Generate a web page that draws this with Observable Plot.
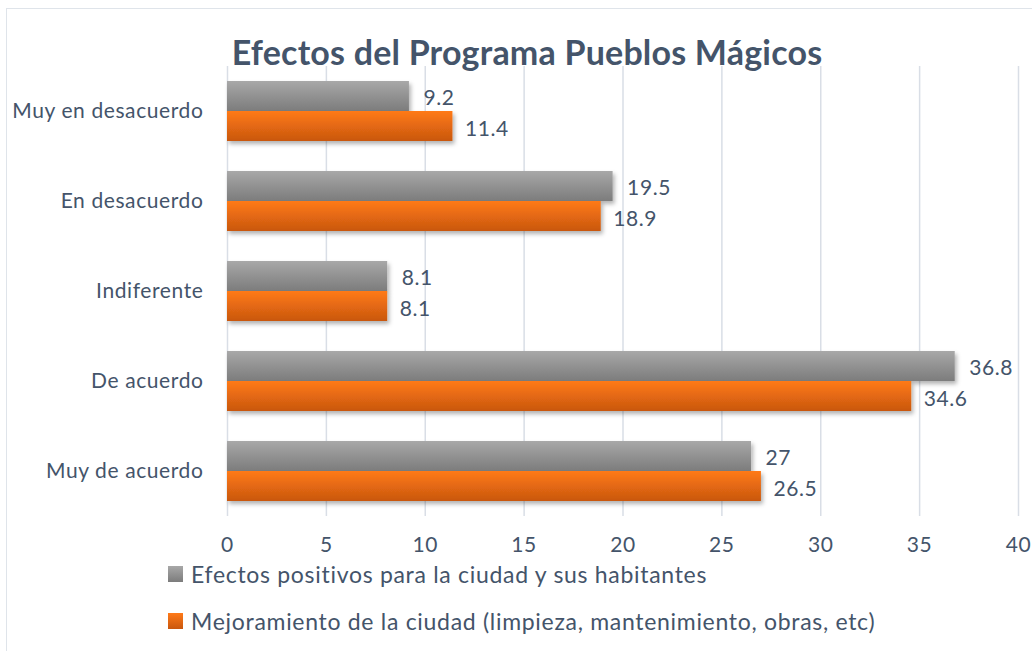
<!DOCTYPE html>
<html>
<head>
<meta charset="utf-8">
<script src="https://cdn.jsdelivr.net/npm/d3@7"></script>
<script src="https://cdn.jsdelivr.net/npm/@observablehq/plot@0.6"></script>
<style>
  body { margin: 0; background: #fff; font-family: Lato, "Open Sans", sans-serif; }
  #frame { position: absolute; left: 6px; top: 8px; width: 1040px; height: 660px; border: 1.5px solid #dfe4ea; box-sizing: border-box; }
  #title { position: absolute; left: 0; top: 31px; width: 1054px; text-align: center; font-weight: bold; font-size: 34px; letter-spacing: 0.2px; color: #44546A; }
  #chart { position: absolute; left: 0; top: 0; }
  #legend { position: absolute; left: 168px; top: 560px; color: #44546A; font-size: 23px; letter-spacing: 0.7px; }
  .item { display: flex; align-items: center; height: 28px; margin-bottom: 19px; }
  .sw { width: 15px; height: 16px; margin-right: 8px; }
  #chart svg text { letter-spacing: 0.6px; }
</style>
</head>
<body>
<div id="frame"></div>
<div id="title">Efectos del Programa Pueblos Mágicos</div>
<div id="chart"></div>
<div id="legend"></div>
<script>
const categories = ["Muy en desacuerdo", "En desacuerdo", "Indiferente", "De acuerdo", "Muy de acuerdo"];
const seriesNames = ["Efectos positivos para la ciudad y sus habitantes", "Mejoramiento de la ciudad (limpieza, mantenimiento, obras, etc)"];
const efectos = [9.2, 19.5, 8.1, 36.8, 26.5];
const mejoramiento = [11.4, 18.9, 8.1, 34.6, 27];
const efectosLabels = ["9.2", "19.5", "8.1", "36.8", "27"];
const mejoramientoLabels = ["11.4", "18.9", "8.1", "34.6", "26.5"];
const xTicks = [0, 5, 10, 15, 20, 25, 30, 35, 40];

const dataA = categories.map((c, i) => ({cat: c, v: efectos[i], label: efectosLabels[i]}));
const dataB = categories.map((c, i) => ({cat: c, v: mejoramiento[i], label: mejoramientoLabels[i]}));

const textColor = "#44546A";

const plot = Plot.plot({
  width: 1032,
  height: 560,
  marginLeft: 227,
  marginRight: 14,
  marginTop: 66,
  marginBottom: 44,
  style: {fontFamily: "Lato, 'Open Sans', sans-serif", fontSize: "21px", color: textColor, background: "transparent", overflow: "visible"},
  x: {domain: [0, 40], ticks: xTicks, label: null},
  y: {domain: categories, paddingInner: 1/3, paddingOuter: 1/6, label: null},
  marks: [
    Plot.gridX(xTicks, {stroke: "#d9dee6", strokeOpacity: 1, strokeWidth: 1.5}),
    Plot.axisX({ticks: xTicks, tickSize: 0, tickPadding: 21, fontSize: 21, label: null}),
    Plot.axisY({tickSize: 0, tickPadding: 24, fontSize: 21, label: null}),
    Plot.barX(dataA, {x: "v", y: "cat", insetBottom: 30, fill: "url(#gGray)"}),
    Plot.barX(dataB, {x: "v", y: "cat", insetTop: 30, fill: "url(#gOrange)"}),
    Plot.text(dataA, {x: "v", y: "cat", text: "label", dx: 14, dy: -13, textAnchor: "start", fill: textColor, fontSize: 21}),
    Plot.text(dataB, {x: "v", y: "cat", text: "label", dx: 12, dy: 18, textAnchor: "start", fill: textColor, fontSize: 21})
  ]
});

const svg = d3.select(plot);
const defs = svg.insert("defs", ":first-child");
const g1 = defs.append("linearGradient").attr("id", "gGray").attr("x1", 0).attr("y1", 0).attr("x2", 0).attr("y2", 1);
g1.append("stop").attr("offset", "0%").attr("stop-color", "#a8a8a8");
g1.append("stop").attr("offset", "100%").attr("stop-color", "#7c7c7c");
const g2 = defs.append("linearGradient").attr("id", "gOrange").attr("x1", 0).attr("y1", 0).attr("x2", 0).attr("y2", 1);
g2.append("stop").attr("offset", "0%").attr("stop-color", "#ff7a18");
g2.append("stop").attr("offset", "100%").attr("stop-color", "#c9570e");
const f = defs.append("filter").attr("id", "shadow").attr("x", "-5%").attr("y", "-30%").attr("width", "115%").attr("height", "170%");
f.append("feDropShadow").attr("dx", 2).attr("dy", 3).attr("stdDeviation", 2).attr("flood-color", "#000").attr("flood-opacity", 0.3);
svg.selectAll("g[aria-label=bar]").attr("filter", "url(#shadow)");

document.getElementById("chart").appendChild(plot);

const legend = document.getElementById("legend");
const swatches = ["linear-gradient(#a8a8a8, #7c7c7c)", "linear-gradient(#ff7a18, #c9570e)"];
seriesNames.forEach((name, i) => {
  const item = document.createElement("div");
  item.className = "item";
  const sw = document.createElement("div");
  sw.className = "sw";
  sw.style.background = swatches[i];
  const t = document.createElement("span");
  t.textContent = name;
  item.appendChild(sw);
  item.appendChild(t);
  legend.appendChild(item);
});
</script>
</body>
</html>
